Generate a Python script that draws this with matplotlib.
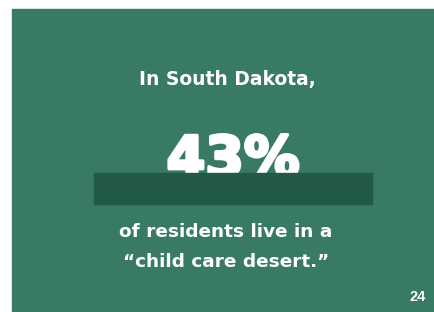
#!/usr/bin/env python3
# infographic card: share of residents living in a child care desert

import matplotlib
matplotlib.use("Agg")
import matplotlib.pyplot as plt
import matplotlib.patheffects as pe
from matplotlib.patches import Rectangle

state = "South Dakota"
percent = 43
caption_lines = ["of residents live in a", "\u201cchild care desert.\u201d"]
page_number = "24"

panel_color = "#387a65"
bar_color = "#225a45"

fig = plt.figure(figsize=(4.35, 3.12), dpi=100)
fig.patch.set_facecolor("white")
ax = fig.add_axes([0, 0, 1, 1])
ax.set_xlim(0, 435)
ax.set_ylim(312, 0)
ax.axis("off")

# green card
ax.add_patch(Rectangle((12, 9), 423, 303, color=panel_color, zorder=0))

font = ["DejaVu Sans"]
ax.text(227, 80, f"In {state},", ha="center", va="center", color="white",
        fontsize=13.5, fontweight="bold", family=font)

# heavy number, thickened with a stroke
ax.text(233, 161, f"{percent}%", ha="center", va="center", color="white",
        fontsize=40, fontweight="bold", family=font, zorder=1,
        path_effects=[pe.withStroke(linewidth=2.5, foreground="white")])

# dark band sits over the bottom of the number
ax.add_patch(Rectangle((94, 173), 278, 31, color=bar_color, zorder=2))

for i, line in enumerate(caption_lines):
    ax.text(226, 232 + i * 30, line, ha="center", va="center", color="white",
            fontsize=13.3, fontweight="bold", family=font)

ax.text(418, 297, page_number, ha="center", va="center", color="white",
        fontsize=10.5, fontweight="bold", family=["Liberation Sans", "DejaVu Sans"])

fig.savefig("out.png", dpi=100, facecolor=fig.get_facecolor())
